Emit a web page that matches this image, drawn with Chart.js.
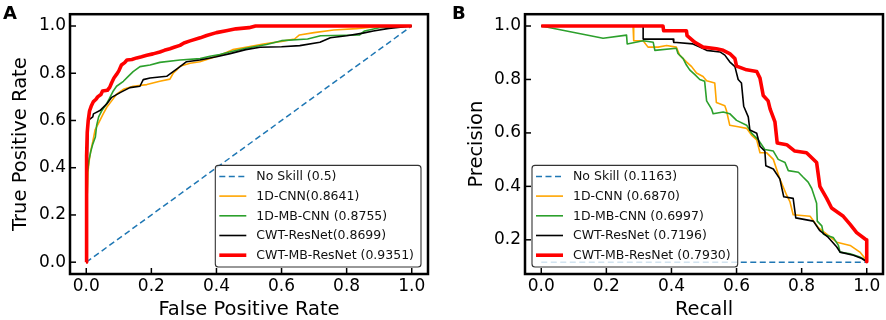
<!DOCTYPE html>
<html><head><meta charset="utf-8">
<script src="https://cdn.jsdelivr.net/npm/chart.js@4/dist/chart.umd.min.js"></script>
<style>
html,body{margin:0;padding:0;background:#fff;}
#wrap{position:relative;width:886px;height:320px;overflow:hidden;}
.c{position:absolute;top:0;height:320px;}
#ca{left:0;width:440px;} #cb{left:440px;width:446px;}
</style></head><body>
<div id="wrap">
<div class="c" id="ca"><canvas id="A"></canvas></div>
<div class="c" id="cb"><canvas id="B"></canvas></div>
</div>
<script>
// ---------- DATA ----------
const tickLabels = [0.0, 0.2, 0.4, 0.6, 0.8, 1.0];
const prTickLabels = [0.2, 0.4, 0.6, 0.8, 1.0];
const seriesNames = ['1D-CNN', '1D-MB-CNN', 'CWT-ResNet', 'CWT-MB-ResNet'];
const rocLabels = ['No Skill (0.5)', '1D-CNN(0.8641)', '1D-MB-CNN (0.8755)', 'CWT-ResNet(0.8699)', 'CWT-MB-ResNet (0.9351)'];
const prLabels = ['No Skill (0.1163)', '1D-CNN (0.6870)', '1D-MB-CNN (0.6997)', 'CWT-ResNet (0.7196)', 'CWT-MB-ResNet (0.7930)'];

// ROC (FPR, TPR)
const rocNoSkill = [[0,0],[1,1]];
const roc1dCnn = [[0,0],[0.002,0.25],[0.005,0.38],[0.01,0.44],[0.015,0.48],[0.02,0.51],[0.027,0.56],[0.037,0.587],[0.052,0.628],[0.063,0.656],[0.078,0.683],[0.093,0.711],[0.114,0.732],[0.144,0.745],[0.186,0.752],[0.226,0.766],[0.257,0.775],[0.267,0.80],[0.278,0.814],[0.288,0.83],[0.319,0.842],[0.349,0.849],[0.38,0.862],[0.41,0.876],[0.45,0.9],[0.49,0.91],[0.544,0.924],[0.6,0.935],[0.64,0.945],[0.655,0.962],[0.7,0.972],[0.76,0.983],[0.83,0.989],[0.89,0.997],[1,1]];
const roc1dMbCnn = [[0,0],[0.002,0.2],[0.004,0.38],[0.008,0.43],[0.014,0.47],[0.02,0.5],[0.028,0.53],[0.032,0.58],[0.038,0.615],[0.047,0.64],[0.06,0.665],[0.07,0.69],[0.083,0.725],[0.093,0.745],[0.114,0.766],[0.129,0.787],[0.144,0.807],[0.165,0.828],[0.196,0.835],[0.226,0.846],[0.288,0.856],[0.35,0.862],[0.38,0.872],[0.41,0.879],[0.45,0.893],[0.49,0.906],[0.554,0.922],[0.6,0.938],[0.68,0.945],[0.72,0.959],[0.84,0.962],[0.855,0.979],[0.9,0.993],[1,1]];
const rocCwtResNet = [[0,0],[0.002,0.3],[0.004,0.49],[0.006,0.6],[0.02,0.615],[0.022,0.628],[0.042,0.642],[0.063,0.67],[0.078,0.698],[0.104,0.718],[0.134,0.739],[0.165,0.745],[0.175,0.773],[0.196,0.78],[0.247,0.787],[0.267,0.807],[0.288,0.828],[0.308,0.849],[0.349,0.856],[0.4,0.87],[0.442,0.883],[0.49,0.9],[0.534,0.91],[0.6,0.912],[0.656,0.917],[0.718,0.931],[0.75,0.95],[0.8,0.959],[0.85,0.97],[0.882,0.979],[0.93,0.99],[1,1]];
const rocCwtMbResNet = [[0,0],[0.001,0.45],[0.003,0.55],[0.006,0.60],[0.01,0.64],[0.015,0.66],[0.022,0.68],[0.03,0.69],[0.035,0.70],[0.045,0.71],[0.05,0.725],[0.065,0.728],[0.072,0.74],[0.078,0.76],[0.085,0.78],[0.093,0.795],[0.1,0.81],[0.108,0.835],[0.118,0.845],[0.125,0.856],[0.14,0.858],[0.155,0.865],[0.17,0.87],[0.186,0.876],[0.205,0.882],[0.226,0.89],[0.24,0.897],[0.257,0.904],[0.27,0.91],[0.288,0.918],[0.3,0.928],[0.319,0.937],[0.35,0.95],[0.37,0.96],[0.40,0.972],[0.43,0.98],[0.46,0.988],[0.5,0.993],[0.52,1.0],[1,1]];

// PR (Recall, Precision)
const prNoSkill = [[0,0.1163],[1,0.1163]];
const pr1dCnn = [[0,1],[0.282,1],[0.284,0.945],[0.313,0.945],[0.328,0.921],[0.359,0.921],[0.385,0.927],[0.415,0.921],[0.425,0.891],[0.446,0.866],[0.462,0.848],[0.477,0.824],[0.497,0.811],[0.508,0.795],[0.533,0.787],[0.538,0.714],[0.564,0.702],[0.569,0.684],[0.579,0.629],[0.605,0.623],[0.631,0.617],[0.646,0.592],[0.662,0.574],[0.672,0.526],[0.692,0.526],[0.713,0.501],[0.733,0.428],[0.754,0.367],[0.764,0.343],[0.774,0.294],[0.826,0.288],[0.851,0.246],[0.877,0.221],[0.908,0.191],[0.949,0.179],[0.979,0.154],[0.995,0.13],[1,0.118]];
const pr1dMbCnn = [[0,1],[0.19,0.954],[0.262,0.966],[0.264,0.933],[0.313,0.945],[0.344,0.939],[0.349,0.909],[0.415,0.917],[0.42,0.897],[0.436,0.878],[0.446,0.854],[0.456,0.836],[0.472,0.818],[0.487,0.80],[0.502,0.793],[0.508,0.72],[0.523,0.69],[0.528,0.672],[0.559,0.678],[0.579,0.672],[0.6,0.647],[0.631,0.629],[0.646,0.599],[0.667,0.574],[0.687,0.538],[0.713,0.532],[0.728,0.501],[0.749,0.489],[0.759,0.459],[0.79,0.453],[0.805,0.434],[0.82,0.416],[0.831,0.392],[0.846,0.337],[0.848,0.27],[0.862,0.252],[0.867,0.221],[0.897,0.209],[0.913,0.179],[0.918,0.154],[0.949,0.148],[0.979,0.136],[0.995,0.124],[1,0.118]];
const prCwtResNet = [[0,1],[0.313,1],[0.313,0.951],[0.405,0.951],[0.407,0.939],[0.466,0.933],[0.487,0.921],[0.508,0.909],[0.549,0.903],[0.564,0.891],[0.579,0.866],[0.595,0.848],[0.605,0.80],[0.615,0.787],[0.622,0.70],[0.636,0.66],[0.641,0.611],[0.662,0.599],[0.672,0.55],[0.687,0.532],[0.69,0.477],[0.713,0.465],[0.733,0.428],[0.745,0.361],[0.774,0.355],[0.782,0.282],[0.836,0.27],[0.856,0.234],[0.882,0.209],[0.908,0.173],[0.918,0.154],[0.959,0.142],[0.985,0.13],[1,0.118]];
const prCwtMbResNet = [[0,1],[0.374,1],[0.376,0.982],[0.446,0.982],[0.448,0.964],[0.472,0.939],[0.497,0.921],[0.538,0.915],[0.559,0.909],[0.579,0.897],[0.595,0.878],[0.60,0.85],[0.631,0.836],[0.662,0.83],[0.672,0.805],[0.682,0.74],[0.697,0.72],[0.703,0.69],[0.718,0.641],[0.725,0.562],[0.754,0.556],[0.779,0.532],[0.815,0.526],[0.831,0.507],[0.846,0.489],[0.856,0.40],[0.877,0.355],[0.892,0.319],[0.928,0.288],[0.949,0.258],[0.969,0.227],[0.995,0.203],[1,0.2],[1,0.118]];

// ---------- STYLE ----------
const FONT = '"DejaVu Sans", sans-serif';
const styles = [
  {color:'#1f77b4', width:1.5, dash:[6,3.5], order:4},
  {color:'#ffa500', width:1.6, dash:[], order:3},
  {color:'#2ca02c', width:1.6, dash:[], order:2},
  {color:'#000000', width:1.6, dash:[], order:1},
  {color:'#ff0000', width:3.6, dash:[], order:0}
];
function mkDatasets(labels, series) {
  return series.map((pts, i) => ({
    label: labels[i],
    data: pts.map(p => ({x:p[0], y:p[1]})),
    borderColor: styles[i].color,
    borderWidth: styles[i].width,
    borderDash: styles[i].dash,
    borderCapStyle: 'butt',
    borderJoinStyle: 'round',
    order: styles[i].order,
    pointRadius: 0, fill: false, tension: 0
  }));
}

const boxLegend = {
  id: 'boxLegend',
  afterDatasetsDraw(chart, args, opts) {
    const {ctx, chartArea: a} = chart;
    const ds = chart.data.datasets;
    ctx.save();
    ctx.font = '12.5px ' + FONT;
    const maxW = Math.max(...ds.map(d => ctx.measureText(d.label).width));
    const w = 41 + maxW + 7, h = 101.6;
    const x = opts.align === 'right' ? a.right - 7 - w : a.left + 7;
    const y = a.bottom - 7 - h;
    ctx.beginPath();
    ctx.roundRect(x, y, w, h, 3);
    ctx.fillStyle = 'rgba(255,255,255,0.8)';
    ctx.fill();
    ctx.lineWidth = 1.1;
    ctx.strokeStyle = '#333';
    ctx.stroke();
    ds.forEach((d, i) => {
      const cy = y + 11 + i * 19.7;
      ctx.beginPath();
      ctx.setLineDash(d.borderDash || []);
      ctx.lineWidth = d.borderWidth;
      ctx.strokeStyle = d.borderColor;
      ctx.lineCap = 'butt';
      ctx.moveTo(x + 4, cy); ctx.lineTo(x + 31, cy);
      ctx.stroke();
      ctx.setLineDash([]);
      ctx.fillStyle = '#111';
      ctx.textBaseline = 'middle';
      ctx.textAlign = 'left';
      ctx.fillText(d.label, x + 41, cy + 0.5);
    });
    ctx.restore();
  }
};

const frame = {
  id: 'frame',
  afterDraw(chart, args, opts) {
    const {ctx, chartArea: a, scales} = chart;
    ctx.save();
    ctx.strokeStyle = '#000';
    ctx.lineWidth = 1.5;
    const L = 6;
    scales.x.ticks.forEach(t => {
      const px = scales.x.getPixelForValue(t.value);
      ctx.beginPath(); ctx.moveTo(px, a.bottom); ctx.lineTo(px, a.bottom - L); ctx.stroke();
    });
    scales.y.ticks.forEach(t => {
      const py = scales.y.getPixelForValue(t.value);
      ctx.beginPath(); ctx.moveTo(a.left, py); ctx.lineTo(a.left + L, py); ctx.stroke();
    });
    ctx.lineWidth = 2.5;
    ctx.strokeRect(a.left, a.top, a.right - a.left, a.bottom - a.top);
    ctx.fillStyle = '#000';
    ctx.font = 'bold 18px ' + FONT;
    ctx.textBaseline = 'alphabetic';
    ctx.textAlign = 'left';
    ctx.fillText(opts.text, opts.lx, 18.5);
    ctx.restore();
  }
};

function makeChart(id, cfg) {
  return new Chart(document.getElementById(id), {
    type: 'line',
    data: {datasets: cfg.datasets},
    options: {
      responsive: true, maintainAspectRatio: false, animation: false,
      layout: {padding: {left: 0, top: 7, right: cfg.padRight, bottom: 0}},
      plugins: {
        legend: {display: false}, tooltip: {enabled: false},
        boxLegend: {align: cfg.legendAlign},
        frame: {text: cfg.panel, lx: cfg.panelX}
      },
      scales: {
        x: {
          type: 'linear', min: cfg.xMin, max: cfg.xMax,
          afterFit: s => { s.height = 46; },
          afterBuildTicks: s => { s.ticks = cfg.xTicks.map(v => ({value: v})); },
          grid: {display: false, drawTicks: false}, border: {display: false},
          ticks: {padding: 2, color: '#000', font: {family: FONT, size: 17}, callback: v => Number(v).toFixed(1), autoSkip: false, maxRotation: 0},
          title: {display: true, text: cfg.xTitle, color: '#000', font: {family: FONT, size: 19.5}, padding: {top: 0, bottom: -2}}
        },
        y: {
          type: 'linear', min: cfg.yMin, max: cfg.yMax,
          afterFit: s => { s.width = cfg.yWidth; },
          afterBuildTicks: s => { s.ticks = cfg.yTicks.map(v => ({value: v})); },
          grid: {display: false, drawTicks: false}, border: {display: false},
          ticks: {padding: 4, color: '#000', font: {family: FONT, size: 17}, callback: v => Number(v).toFixed(1), autoSkip: false},
          title: {display: true, text: cfg.yTitle, color: '#000', font: {family: FONT, size: 19.5}, padding: {top: cfg.yTitlePad, bottom: 0}}
        }
      }
    },
    plugins: [boxLegend, frame]
  });
}

makeChart('A', {
  datasets: mkDatasets(rocLabels, [rocNoSkill, roc1dCnn, roc1dMbCnn, rocCwtResNet, rocCwtMbResNet]),
  padRight: 12, legendAlign: 'right', panel: 'A', panelX: 3,
  xMin: -0.05, xMax: 1.05, yMin: -0.05, yMax: 1.05,
  xTicks: tickLabels, yTicks: tickLabels,
  xTitle: 'False Positive Rate', yTitle: 'True Positive Rate',
  yWidth: 70, yTitlePad: 9
});
makeChart('B', {
  datasets: mkDatasets(prLabels, [prNoSkill, pr1dCnn, pr1dMbCnn, prCwtResNet, prCwtMbResNet]),
  padRight: 3, legendAlign: 'left', panel: 'B', panelX: 12,
  xMin: -0.05, xMax: 1.05, yMin: 0.0721, yMax: 1.0442,
  xTicks: tickLabels, yTicks: prTickLabels,
  xTitle: 'Recall', yTitle: 'Precision',
  yWidth: 85, yTitlePad: 25.5
});
</script>
</body></html>
